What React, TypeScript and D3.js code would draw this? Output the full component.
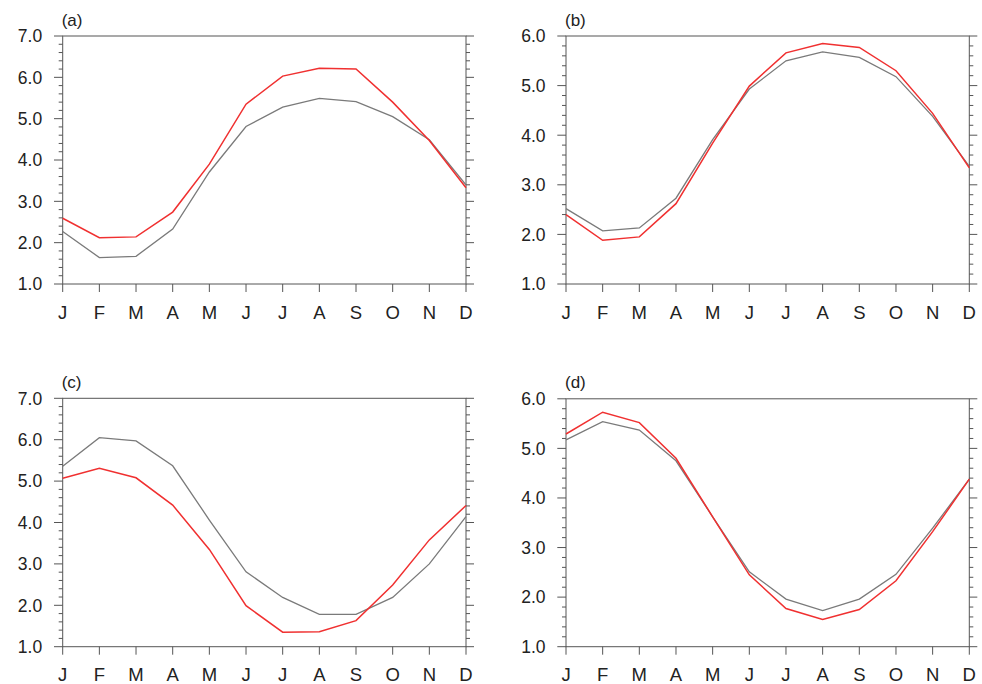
import React from "react";
import * as d3 from "d3";

const months = ["J", "F", "M", "A", "M", "J", "J", "A", "S", "O", "N", "D"];

const redA = [2.59, 2.12, 2.14, 2.74, 3.9, 5.35, 6.03, 6.22, 6.2, 5.4, 4.47, 3.33];
const grayA = [2.27, 1.64, 1.67, 2.33, 3.71, 4.81, 5.28, 5.49, 5.41, 5.05, 4.49, 3.4];

const redB = [2.4, 1.88, 1.95, 2.62, 3.84, 4.99, 5.66, 5.85, 5.77, 5.3, 4.44, 3.34];
const grayB = [2.52, 2.07, 2.13, 2.73, 3.91, 4.93, 5.5, 5.68, 5.57, 5.18, 4.38, 3.37];

const redC = [5.07, 5.31, 5.08, 4.42, 3.35, 1.99, 1.35, 1.36, 1.63, 2.49, 3.58, 4.41];
const grayC = [5.36, 6.05, 5.97, 5.37, 4.06, 2.81, 2.19, 1.78, 1.78, 2.19, 3.0, 4.14];

const redD = [5.29, 5.73, 5.52, 4.8, 3.62, 2.45, 1.77, 1.55, 1.75, 2.33, 3.32, 4.38];
const grayD = [5.17, 5.54, 5.37, 4.75, 3.62, 2.51, 1.96, 1.73, 1.96, 2.46, 3.39, 4.38];

const yTicksA = [1, 2, 3, 4, 5, 6, 7];
const yTicksB = [1, 2, 3, 4, 5, 6];

const panelLabels = ["(a)", "(b)", "(c)", "(d)"];

const RED = "#f03030";
const GRAY = "#7a7a7a";
const AXIS = "#555";
const FONT = "Liberation Sans, Arial, sans-serif";

type PanelProps = {
  x0: number;
  x1: number;
  y0: number;
  y1: number;
  yMax: number;
  yTicks: number[];
  red: number[];
  gray: number[];
  label: string;
};

function Panel({ x0, x1, y0, y1, yMax, yTicks, red, gray, label }: PanelProps) {
  const x = d3.scaleLinear().domain([0, 11]).range([x0, x1]);
  const y = d3.scaleLinear().domain([1, yMax]).range([y1, y0]);
  const line = d3
    .line<number>()
    .x((_, i) => x(i))
    .y((d) => y(d));
  const minor = d3.range(1, yMax + 0.001, 0.2).filter((v) => Math.abs(v - Math.round(v)) > 0.01);
  return (
    <g>
      <text x={x0 - 1} y={y0 - 10.5} fontSize={17} fill="#222" fontFamily={FONT}>
        {label}
      </text>
      <rect x={x0} y={y0} width={x1 - x0} height={y1 - y0} fill="none" stroke={AXIS} strokeWidth={1} />
      {yTicks.map((t) => (
        <g key={"ym" + t}>
          <line x1={x0 - 8.7} x2={x0} y1={y(t)} y2={y(t)} stroke={AXIS} strokeWidth={1} />
          <line x1={x1} x2={x1 + 8} y1={y(t)} y2={y(t)} stroke={AXIS} strokeWidth={1} />
          <text x={x0 - 20.5} y={y(t)} dy="0.36em" textAnchor="end" fontSize={17.5} fill="#222" fontFamily={FONT}>
            {t.toFixed(1)}
          </text>
        </g>
      ))}
      {minor.map((t) => (
        <g key={"yn" + t.toFixed(1)}>
          <line x1={x0 - 4} x2={x0} y1={y(t)} y2={y(t)} stroke={AXIS} strokeWidth={1} />
          <line x1={x1} x2={x1 + 4} y1={y(t)} y2={y(t)} stroke={AXIS} strokeWidth={1} />
        </g>
      ))}
      {months.map((m, i) => (
        <g key={"x" + i}>
          <line x1={x(i)} x2={x(i)} y1={y1} y2={y1 + 8} stroke={AXIS} strokeWidth={1} />
          <text x={x(i)} y={y1 + 34.5} textAnchor="middle" fontSize={18.5} fill="#222" fontFamily={FONT}>
            {m}
          </text>
        </g>
      ))}
      <path d={line(gray) || ""} fill="none" stroke={GRAY} strokeWidth={1.3} />
      <path d={line(red) || ""} fill="none" stroke={RED} strokeWidth={1.5} />
    </g>
  );
}

export default function App() {
  return (
    <svg width={982} height={684} style={{ position: "absolute", left: 0, top: 0, background: "#fff" }}>
      <rect width={982} height={684} fill="#fff" />
      <Panel x0={62.7} x1={466} y0={36} y1={284} yMax={7} yTicks={yTicksA} red={redA} gray={grayA} label={panelLabels[0]} />
      <Panel x0={566} x1={969.3} y0={36} y1={284} yMax={6} yTicks={yTicksB} red={redB} gray={grayB} label={panelLabels[1]} />
      <Panel x0={62.7} x1={466} y0={398.3} y1={646.7} yMax={7} yTicks={yTicksA} red={redC} gray={grayC} label={panelLabels[2]} />
      <Panel x0={566} x1={969.3} y0={398.8} y1={646.7} yMax={6} yTicks={yTicksB} red={redD} gray={grayD} label={panelLabels[3]} />
    </svg>
  );
}
